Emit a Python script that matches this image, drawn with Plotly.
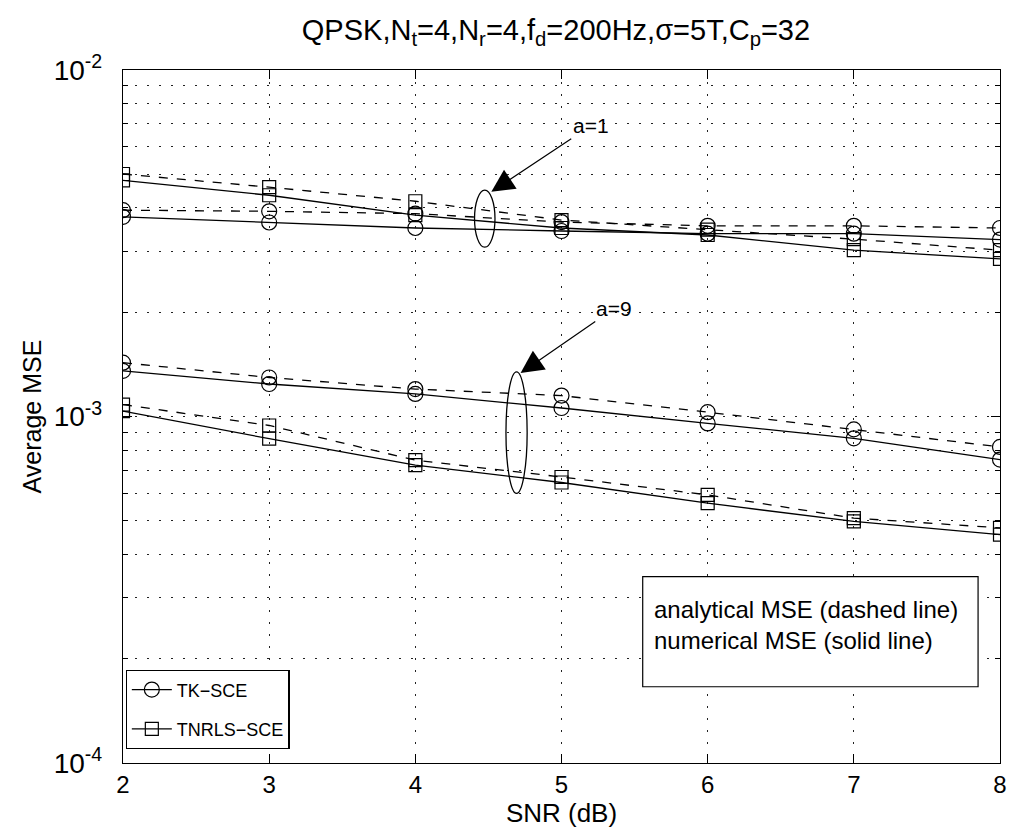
import numpy as np
import plotly.graph_objects as go

snr = [2, 3, 4, 5, 6, 7, 8]

# a = 1
tk_a1_analytical = [3.94e-3, 3.91e-3, 3.85e-3, 3.64e-3, 3.55e-3, 3.55e-3, 3.50e-3]
tk_a1_numerical = [3.77e-3, 3.63e-3, 3.50e-3, 3.43e-3, 3.37e-3, 3.37e-3, 3.24e-3]
tnrls_a1_analytical = [5.01e-3, 4.59e-3, 4.18e-3, 3.69e-3, 3.46e-3, 3.25e-3, 3.02e-3]
tnrls_a1_numerical = [4.80e-3, 4.35e-3, 3.81e-3, 3.50e-3, 3.34e-3, 3.02e-3, 2.85e-3]

# a = 9
tk_a9_analytical = [1.43e-3, 1.296e-3, 1.20e-3, 1.149e-3, 1.029e-3, 9.18e-4, 8.17e-4]
tk_a9_numerical = [1.354e-3, 1.241e-3, 1.162e-3, 1.058e-3, 9.55e-4, 8.65e-4, 7.51e-4]
tnrls_a9_analytical = [1.082e-3, 9.42e-4, 7.48e-4, 6.69e-4, 5.94e-4, 5.09e-4, 4.77e-4]
tnrls_a9_numerical = [1.036e-3, 8.63e-4, 7.24e-4, 6.45e-4, 5.62e-4, 4.98e-4, 4.56e-4]

y_major = [1e-4, 1e-3, 1e-2]
y_major_text = ["10<sup>-4</sup>", "10<sup>-3</sup>", "10<sup>-2</sup>"]
y_minor = [m * d for d in (1e-4, 1e-3) for m in range(2, 10)]

FONT = "Liberation Sans, Arial, Helvetica, sans-serif"
DOT = "1.6px,10.4px"

fig = go.Figure()

def add(y, symbol, dash, name=None, show=False, size=15, group=None):
    fig.add_trace(go.Scatter(
        x=snr, y=y, mode="lines+markers",
        line=dict(color="black", width=1.3, dash=dash),
        marker=dict(symbol=symbol, size=size, color="black",
                    line=dict(color="black", width=1.2)),
        name=name, showlegend=show, legendgroup=group,
    ))

add(tk_a1_analytical, "circle-open", "dash")
add(tk_a1_numerical, "circle-open", "solid", "TK\u2212SCE", True, group="tk")
add(tnrls_a1_analytical, "square-open", "dash", size=13)
add(tnrls_a1_numerical, "square-open", "solid", "TNRLS\u2212SCE", True, size=13, group="tnrls")
add(tk_a9_analytical, "circle-open", "dash")
add(tk_a9_numerical, "circle-open", "solid")
add(tnrls_a9_analytical, "square-open", "dash", size=13)
add(tnrls_a9_numerical, "square-open", "solid", size=13)

# ellipses grouping curves
fig.add_shape(type="circle", xref="x", yref="y", x0=4.405, x1=4.545,
              y0=3.08e-3, y1=4.5e-3, line=dict(color="black", width=1.3))
fig.add_shape(type="circle", xref="x", yref="y", x0=4.62, x1=4.765,
              y0=6.0e-4, y1=1.345e-3, line=dict(color="black", width=1.3))

# arrows with labels
fig.add_annotation(x=4.52, y=np.log10(4.45e-3), xref="x", yref="y",
                   ax=5.2, ay=np.log10(6.9e-3), axref="x", ayref="y",
                   text="a=1", showarrow=True, arrowhead=2, arrowsize=3.8,
                   arrowwidth=1.2, arrowcolor="black", standoff=0,
                   font=dict(family=FONT, size=21, color="black"))
fig.add_annotation(x=4.72, y=np.log10(1.335e-3), xref="x", yref="y",
                   ax=5.36, ay=np.log10(2.05e-3), axref="x", ayref="y",
                   text="a=9", showarrow=True, arrowhead=2, arrowsize=3.8,
                   arrowwidth=1.2, arrowcolor="black", standoff=0,
                   font=dict(family=FONT, size=21, color="black"))

# text box
fig.add_shape(type="rect", xref="paper", yref="paper", x0=0.5926, x1=0.975,
              y0=0.11, y1=0.269, line=dict(color="black", width=1.2),
              fillcolor="white", layer="above")
fig.add_annotation(xref="paper", yref="paper", x=0.603, y=0.199,
                   xanchor="left", yanchor="middle", align="left",
                   text="analytical MSE (dashed line)<br>numerical MSE (solid line)",
                   showarrow=False,
                   font=dict(family=FONT, size=24, color="black"))

axis_common = dict(
    showline=True, linecolor="black", linewidth=1.3, mirror="ticks",
    ticks="inside", tickcolor="black", ticklen=9, tickwidth=1,
    showgrid=True, gridcolor="#222222", griddash=DOT, gridwidth=1.3,
    zeroline=False,
)

fig.update_xaxes(range=[2, 8], tickmode="array", tickvals=snr,
                 tickfont=dict(family=FONT, size=24, color="black"),
                 title=dict(text="SNR (dB)", font=dict(family=FONT, size=26, color="black"),
                            standoff=2),
                 **axis_common)
fig.update_yaxes(type="log", range=[-4, -2], tickmode="array",
                 tickvals=y_major, ticktext=y_major_text,
                 tickfont=dict(family=FONT, size=28, color="black"),
                 ticklabelstandoff=14,
                 title=dict(text="Average MSE", font=dict(family=FONT, size=25, color="black"),
                            standoff=4),
                 minor=dict(tickmode="array", tickvals=y_minor, ticks="inside",
                            ticklen=5, tickcolor="black", showgrid=True,
                            gridcolor="#222222", griddash=DOT, gridwidth=1.3),
                 **axis_common)

fig.update_layout(
    width=1011, height=831,
    margin=dict(l=115, r=14, t=62, b=76),
    paper_bgcolor="white", plot_bgcolor="white",
    font=dict(family=FONT, size=22, color="black"),
    title=dict(text="QPSK,N<sub>t</sub>=4,N<sub>r</sub>=4,f<sub>d</sub>=200Hz,\u03c3=5T,C<sub>p</sub>=32",
               x=0.542, xanchor="center", y=0.974, yanchor="middle",
               font=dict(family=FONT, size=29, color="black")),
    legend=dict(x=0.003, y=0.02, xanchor="left", yanchor="bottom",
                bgcolor="white", bordercolor="black", borderwidth=1.2,
                font=dict(family=FONT, size=18, color="black"),
                tracegroupgap=13, itemwidth=40),
    showlegend=True,
)

fig.write_html("out.html")
